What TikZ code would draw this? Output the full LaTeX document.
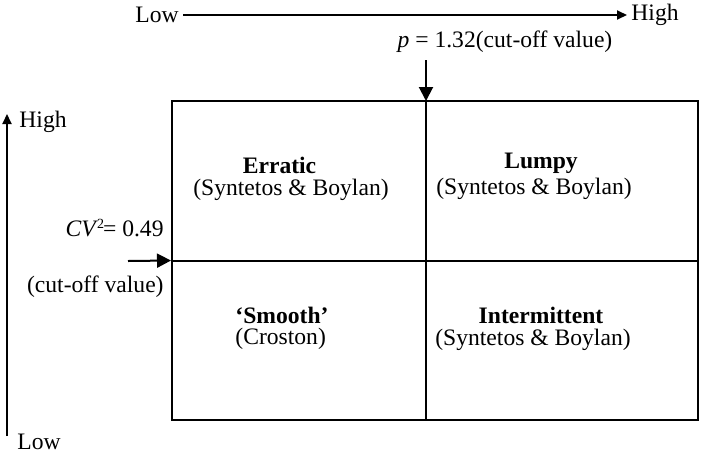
\documentclass[tikz,border=0pt]{standalone}
\usepackage{fontspec}
\setmainfont{Liberation Serif}
\usetikzlibrary{arrows.meta, positioning}

\begin{document}
\begin{tikzpicture}[
    x=0.5pt, y=-0.5pt,
    every node/.style={font=\fontsize{11.8}{14}\selectfont},
    label/.style={inner sep=2pt},
    quad/.style={font=\fontsize{11.8}{14}\selectfont\bfseries, inner sep=0pt},
    ref/.style={inner sep=0pt},
    frame/.style={draw, line width=1pt, inner sep=0pt, minimum width=263pt, minimum height=159.5pt},
    divider/.style={line width=1pt},
    axis/.style={-{Triangle[length=5pt, width=4.5pt]}, line width=1pt},
    cutoff/.style={-{Triangle[length=7pt, width=7pt]}, line width=1pt}
  ]
    \useasboundingbox (0,0) rectangle (702,456);

    % Matrix frame
    \node[frame] (grid) at (435,260.5) {};
    \coordinate (pcut) at (426,101);
    \draw[divider] (pcut) -- (pcut |- grid.south);
    \draw[divider] (grid.west) -- (grid.east);

    % Horizontal axis (p)
    \node[label, anchor=east] (lowx) at (183,15) {Low};
    \node[label, anchor=west] (highx) at (627,15) {High};
    \draw[axis] (lowx) -- (highx);

    % Vertical axis (CV^2)
    \node[label, anchor=west] (highy) at (15,122) {High};
    \node[label, anchor=west] (lowy) at (13,442) {Low};
    \coordinate (yfoot) at (7,436);
    \coordinate (ytip) at (7,114);
    \draw[axis] (yfoot) -- (ytip);

    % Cut-off values
    \node[label] (pvalue) at (505,42) {\textit{p} = 1.32(cut-off value)};
    \coordinate (ptail) at (426,60);
    \draw[cutoff] (ptail) -- (pcut);

    \node[label, anchor=east] (cvvalue) at (168,228)
      {\textit{CV}\kern-0.5pt\raisebox{0.75ex}{\fontsize{7}{7}\selectfont 2}\kern-0.5pt= 0.49};
    \node[label, anchor=east] (cvnote) at (168,287) {(cut-off value)};
    \coordinate (cvtail) at (128,261);
    \draw[cutoff] (cvtail) -- (grid.west);

    % Quadrants
    \node[quad] (erratic) at (279.5,165) {Erratic};
    \node[ref] (erraticref) at (291,190) {(Syntetos \& Boylan)};
    \node[quad] (lumpy) at (541,163) {Lumpy};
    \node[ref] (lumpyref) at (534,189) {(Syntetos \& Boylan)};
    \node[quad, anchor=west] (smooth) at (235,315) {`Smooth'};
    \node[ref, anchor=west] (smoothref) at (235,339) {(Croston)};
    \node[quad] (intermittent) at (541,315) {Intermittent};
    \node[ref] (intermittentref) at (533,340) {(Syntetos \& Boylan)};
  \end{tikzpicture}
\end{document}
